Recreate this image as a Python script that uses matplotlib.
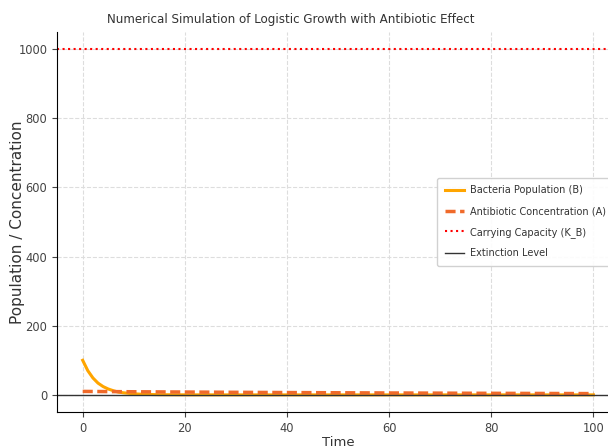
import matplotlib
matplotlib.use('Agg')
import matplotlib.pyplot as plt

# values
time_b = [0, 1, 2, 3, 4, 5, 6, 7, 8, 10, 12, 15, 20, 30, 50, 100]
bacteria = [100, 70, 49, 34, 24, 17, 12, 8, 6, 3, 1.5, 0.5, 0.1, 0, 0, 0]
time_a = [0, 10, 20, 30, 40, 50, 60, 70, 80, 90, 100]
antibiotic = [10, 9.0, 8.2, 7.4, 6.7, 6.1, 5.5, 5.0, 4.5, 4.1, 3.7]
carrying_capacity = 1000
extinction_level = 0
xticks = [0, 20, 40, 60, 80, 100]
yticks = [0, 200, 400, 600, 800, 1000]

plt.rcParams['font.family'] = ['DejaVu Sans']

fig = plt.figure(figsize=(6.08, 4.48), dpi=100)
# axes run a little past the right edge, as in the reference
ax = fig.add_axes([0.094, 0.080, 0.924, 0.849])

ax.plot(time_b, bacteria, color='orange', lw=2.2, label='Bacteria Population (B)')
ax.plot(time_a, antibiotic, color='#f06a2a', lw=2.5, ls=(0, (2.9, 1.3)),
        label='Antibiotic Concentration (A)')
ax.axhline(carrying_capacity, color='red', lw=1.5, ls=':', label='Carrying Capacity (K_B)')
ax.axhline(extinction_level, color='#333333', lw=1, label='Extinction Level')

ax.set_xlim(-5, 105)
ax.set_ylim(-50, 1050)
ax.set_xticks(xticks)
ax.set_yticks(yticks)
ax.tick_params(labelsize=8.3, colors='#444444')
ax.grid(True, ls='--', color='#dddddd', lw=0.8)
for s in ['top', 'right']:
    ax.spines[s].set_visible(False)

ax.set_title('Numerical Simulation of Logistic Growth with Antibiotic Effect',
             fontsize=8.6, color='#333333', x=0.415, pad=6)
ax.set_xlabel('Time', fontsize=9.5, color='#333333', labelpad=1)
ax.set_ylabel('Population / Concentration', fontsize=11, color='#333333')
ax.yaxis.set_label_coords(-0.057, 0.5)
ax.legend(loc='center left', bbox_to_anchor=(0.676, 0.5), borderaxespad=0,
          fontsize=7, labelspacing=1.1, borderpad=0.8, handletextpad=0.6,
          framealpha=0.9, labelcolor='#333333')

fig.savefig('out.png', dpi=100)
